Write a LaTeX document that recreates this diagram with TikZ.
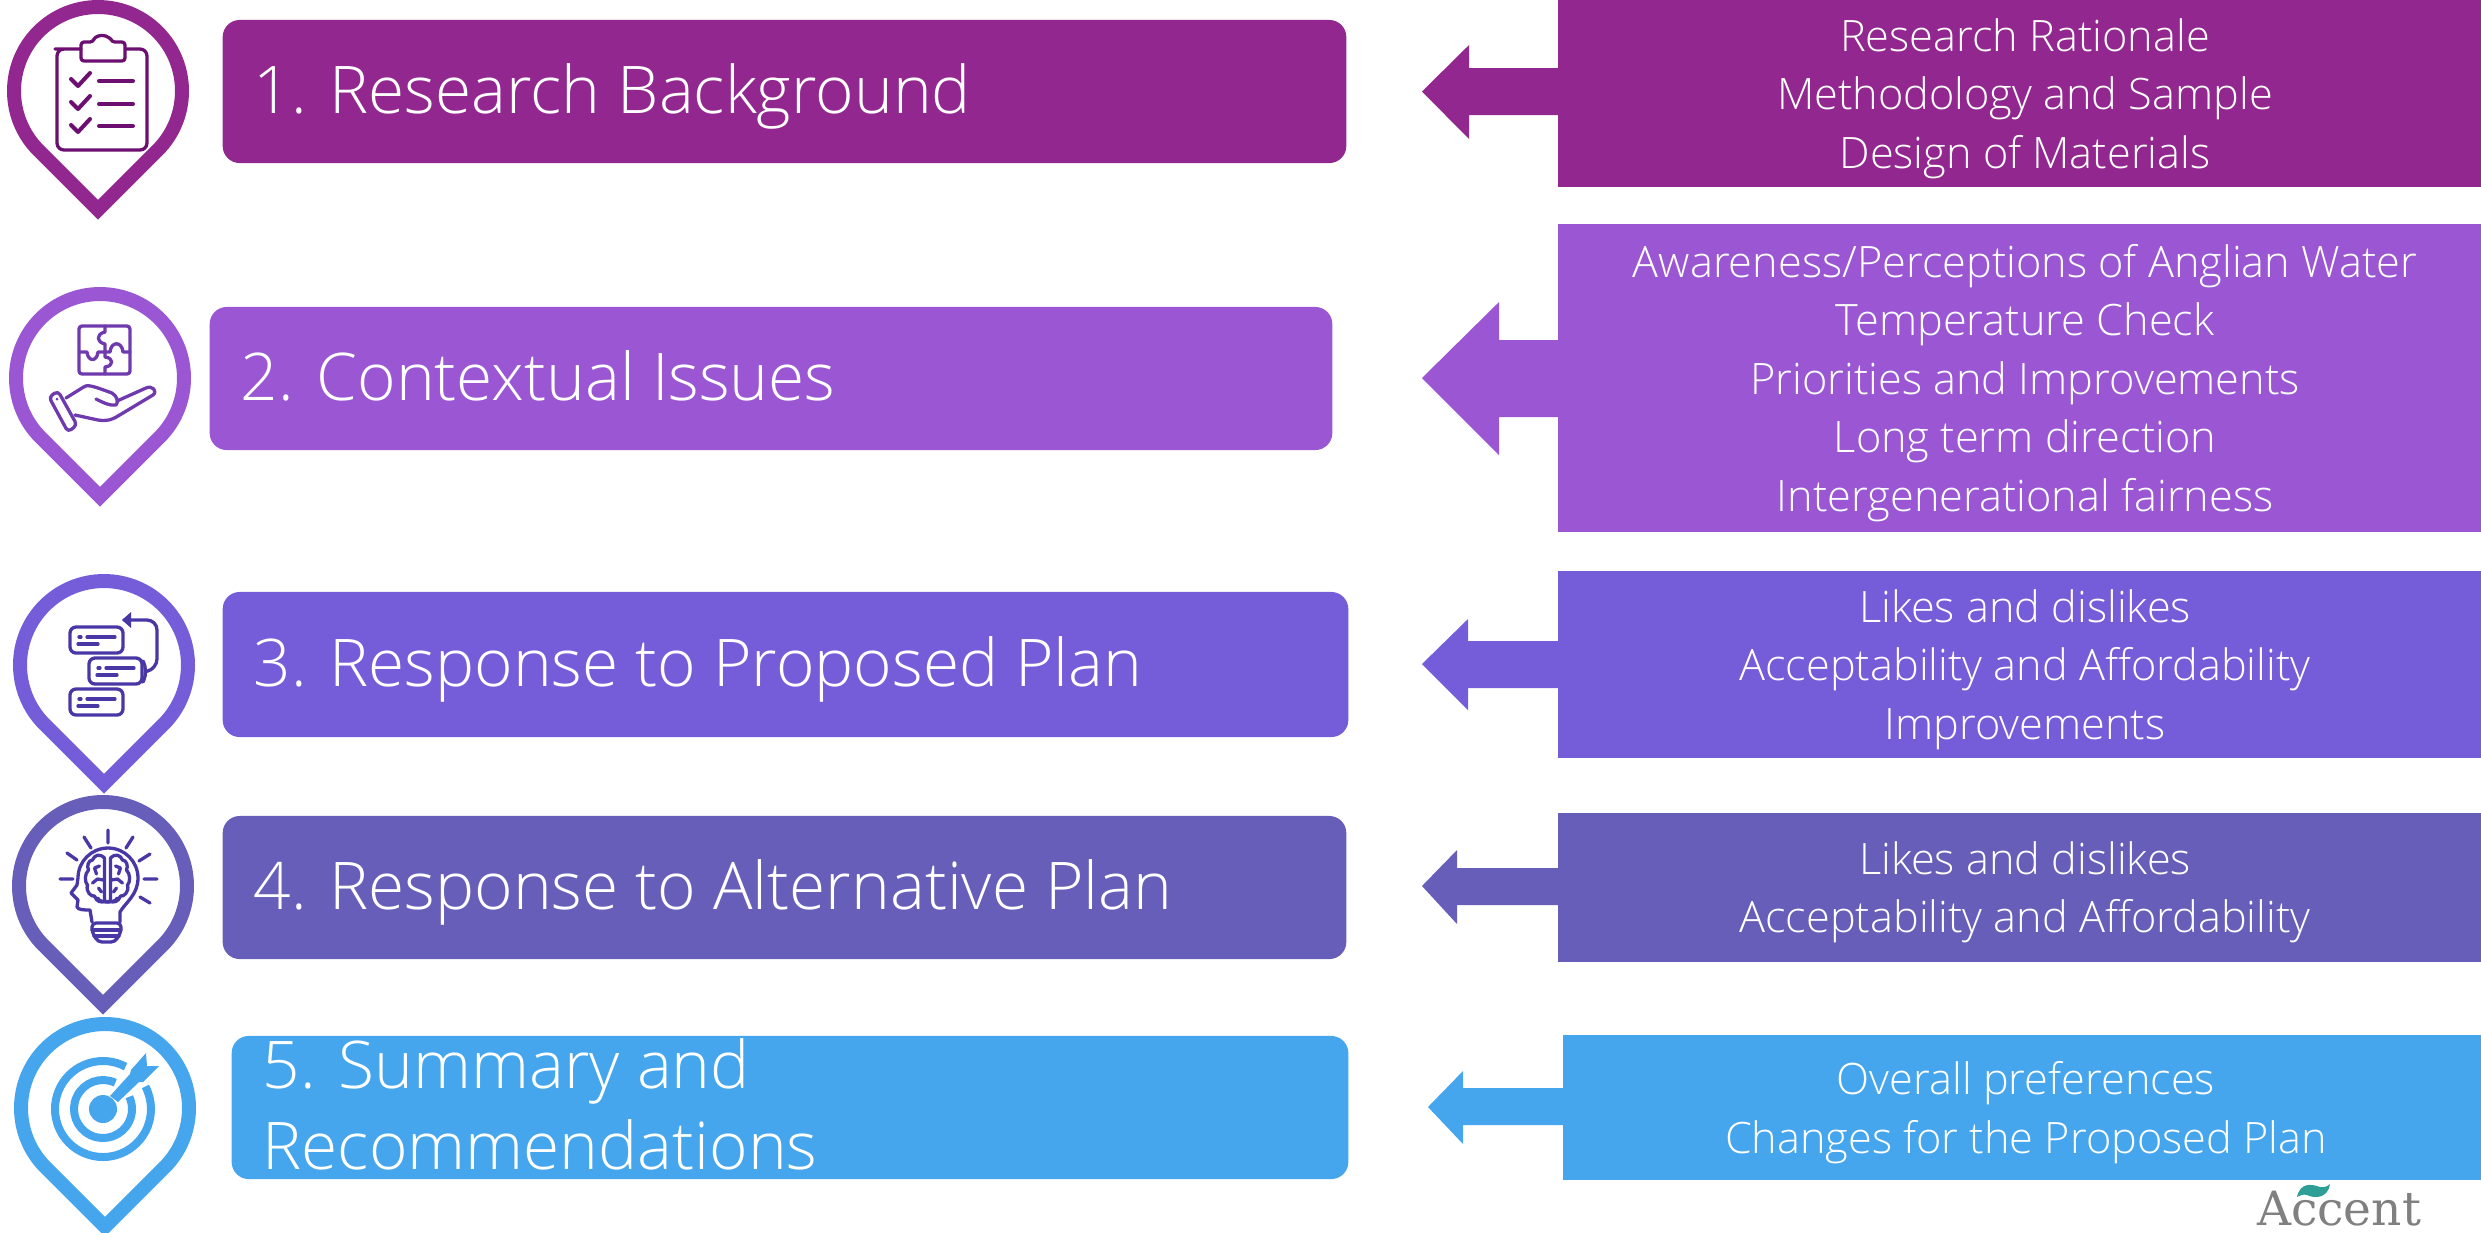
\documentclass[tikz,border=0pt]{standalone}
\usepackage{fontspec}
\setmainfont{Open Sans Light}
\newfontfamily\logofont{DejaVu Serif}
\usetikzlibrary{positioning}
\definecolor{stepA}{HTML}{92278F}
\definecolor{stepB}{HTML}{9B57D3}
\definecolor{stepC}{HTML}{755DD9}
\definecolor{stepD}{HTML}{665EB8}
\definecolor{stepE}{HTML}{45A5ED}
\definecolor{iconA}{HTML}{6C0F70}
\definecolor{iconB}{HTML}{6E3AAE}
\definecolor{iconC}{HTML}{4A37A6}
\definecolor{logogrey}{HTML}{808080}
\definecolor{logoteal}{HTML}{2F9E97}
\newcommand*{\bigfont}{\fontsize{18.7}{23}\selectfont}
\newcommand*{\smallfont}{\fontsize{12.3}{16.6}\selectfont}
\tikzset{base/.style={inner sep=0pt, outer sep=0pt},
  leftbox/.style={base, rounded corners=.17cm},
  rightbox/.style={base, minimum width=9.33cm},
  smalltext/.style={base, text=white, align=center, font=\smallfont, yshift=-.05cm},
  bigtext/.style={base, text=white, align=left, font=\bigfont},
  oneline/.style={text height=16pt, text depth=3.4pt},
  pinline/.style={line width=.14cm, miter limit=10},
  icon/.style={line width=.033cm, line join=round, line cap=round}}
% tear drop round an icon: centre and colour
\newcommand*{\pinshape}[3]{\draw [pinline, #3] (#1,#2+118.8) -- ++(59.4,-59.4) arc [start angle=45, end angle=-225, radius=84] -- cycle;}
% small card of the flow icon: top left corner
\newcommand*{\flowcard}[2]{
  \draw [icon, rounded corners=.06cm] (#1,#2) rectangle ++(53,26);
  \draw [icon] (#1+9,#2+10) -- ++(2,0) (#1+17,#2+10) -- ++(28,0) (#1+8,#2+17) -- ++(20,0);}

\begin{document}
\begin{tikzpicture}[x=.01cm, y=-.01cm]
    \path [use as bounding box] (0,0) rectangle (2481,1232);
    % right boxes
    \node [rightbox, fill=stepA, minimum height=1.87cm] (rbox1) at (2025,93.5) {};
    \node [rightbox, fill=stepB, minimum height=3.08cm] (rbox2) at (2025,378) {};
    \node [rightbox, fill=stepC, minimum height=1.87cm] (rbox3) at (2025,664.5) {};
    \node [rightbox, fill=stepD, minimum height=1.49cm] (rbox4) at (2025,887.5) {};
    \node [rightbox, fill=stepE, minimum height=1.45cm, minimum width=9.26cm] (rbox5) at (2026,1107.5) {};
    \node [smalltext] (list1) at (rbox1) {Research Rationale\\Methodology and Sample\\Design of Materials};
    \node [smalltext] (list2) at (rbox2) {Awareness/Perceptions of Anglian Water\\Temperature Check\\Priorities and Improvements\\Long term direction\\Intergenerational fairness};
    \node [smalltext] (list3) at (rbox3) {Likes and dislikes\\Acceptability and Affordability\\Improvements};
    \node [smalltext] (list4) at (rbox4) {Likes and dislikes\\Acceptability and Affordability};
    \node [smalltext] (list5) at (rbox5) {Overall preferences\\Changes for the Proposed Plan};
    % block arrows
    \fill [stepA] (1422,91.5) -- (1469,45) -- (1469,68) -- (1558,68) -- (1558,115) -- (1469,115) -- (1469,139) -- cycle;
    \fill [stepB] (1422,378) -- (1499,302) -- (1499,340) -- (1558,340) -- (1558,417) -- (1499,417) -- (1499,455) -- cycle;
    \fill [stepC] (1422,664) -- (1468,619) -- (1468,641) -- (1558,641) -- (1558,688) -- (1468,688) -- (1468,710) -- cycle;
    \fill [stepD] (1422,886) -- (1457,850) -- (1457,868) -- (1558,868) -- (1558,905) -- (1457,905) -- (1457,924) -- cycle;
    \fill [stepE] (1428,1107) -- (1463,1071) -- (1463,1088) -- (1564,1088) -- (1564,1125) -- (1463,1125) -- (1463,1144) -- cycle;
    % left boxes
    \node [leftbox, fill=stepA, minimum width=11.23cm, minimum height=1.43cm] (box1) at (784.5,91.5) {};
    \node [leftbox, fill=stepB, minimum width=11.22cm, minimum height=1.43cm] (box2) at (771,378.5) {};
    \node [leftbox, fill=stepC, minimum width=11.25cm, minimum height=1.45cm] (box3) at (785.5,664.5) {};
    \node [leftbox, fill=stepD, minimum width=11.23cm, minimum height=1.43cm] (box4) at (784.5,887.5) {};
    \node [leftbox, fill=stepE, minimum width=11.16cm, minimum height=1.43cm] (box5) at (790,1107.5) {};
    \node [bigtext, oneline, right=.31cm of box1.west] (title1) {1. Research Background};
    \node [bigtext, oneline, right=.31cm of box2.west] (title2) {2. Contextual Issues};
    \node [bigtext, oneline, right=.31cm of box3.west] (title3) {3. Response to Proposed Plan};
    \node [bigtext, oneline, right=.31cm of box4.west] (title4) {4. Response to Alternative Plan};
    \node [bigtext, yshift=.03cm, right=.31cm of box5.west] (title5) {5. Summary and\\Recommendations};
    % pins
    \pinshape{98}{91}{stepA}
    \pinshape{100}{378}{stepB}
    \pinshape{104}{665}{stepC}
    \pinshape{103}{886}{stepD}
    \pinshape{105}{1108}{stepE}
    % clipboard
    \begin{scope}[icon, iconA]
        \draw [rounded corners=.07cm] (81,49) -- (62,49) -- (57,49) -- (57,150) -- (147,150) -- (147,49) -- (126,49);
        \draw [rounded corners=.03cm] (81,61) -- (81,42) -- (93,42) arc [start angle=-160, end angle=-20, radius=10] -- (125,42) -- (125,61) -- cycle;
        \draw [line width=.04cm] (71,79) -- (78,86) -- (90,73) (71,102) -- (78,109) -- (90,96) (71,125) -- (78,132) -- (90,119);
        \draw [line width=.04cm] (99,81) -- (133,81) (99,104) -- (133,104) (99,126) -- (133,126);
    \end{scope}
    % puzzle and hand
    \begin{scope}[icon, iconB]
        \draw [rounded corners=.03cm] (79,326) rectangle (130,374);
        \draw (105,326) -- (105,332) .. controls (96,334) and (96,342) .. (105,344) -- (105,357) .. controls (114,358) and (114,366) .. (105,367) -- (105,374);
        \draw (79,352) -- (87,352) .. controls (88,362) and (97,362) .. (98,352) -- (110,352) .. controls (111,341) and (122,341) .. (123,352) -- (130,352);
        \draw [rounded corners=.04cm] (49,397) -- (58,391) -- (77,425) -- (68,432) -- cycle;
        \fill (57,399) circle (1.5);
        \draw (66,398) -- (82,388) .. controls (87,384) and (90,385) .. (112,393) .. controls (117,396) and (119,402) .. (116,405) .. controls (110,406) and (104,403) .. (96,399);
        \draw (117,401) -- (146,388) .. controls (152,385) and (158,391) .. (153,395) -- (118,416) .. controls (110,421) and (104,421) .. (98,420) -- (75,415);
    \end{scope}
    % flow
    \begin{scope}[iconC]
        \flowcard{70}{627}
        \flowcard{89}{658}
        \flowcard{70}{689}
        \draw [icon, rounded corners=.1cm] (143,661) -- (148,671) -- (143,682);
        \draw [icon, rounded corners=.1cm] (148,671) -- (157,669) -- (157,620) -- (124,620);
        \fill (122,620) -- (131,612) -- (131,628) -- cycle;
    \end{scope}
    % brain bulb
    \begin{scope}[icon, iconC]
        \draw (108,830) -- (108,843) (84,837) -- (91,848) (133,837) -- (126,848) (67,853) -- (77,860) (150,854) -- (139,861) (60,879) -- (73,879) (144,879) -- (157,879) (140,897) -- (150,903);
        \draw (120,922) -- (120,912) .. controls (125,903) and (138,895) .. (138,878) arc [start angle=0, end angle=-180, radius=30] -- (77,885) -- (71,893) -- (78,900) -- (77,907) .. controls (78,910) and (85,910) .. (90,910) -- (92,922);
        \draw [rounded corners=.04cm] (92,923) -- (121,923) -- (121,932) -- (115,942) -- (98,942) -- (92,932) -- cycle;
        \draw (92,930) -- (121,930) (94,936) -- (119,936);
        \foreach \side in {1,-1} {
            \begin{scope}[shift={(107.5,0)}, xscale=\side]
                \draw (3,858) -- (3,901) .. controls (-1,903) and (-8,902) .. (-10,898);
                \draw (3,858) .. controls (8,853) and (13,855) .. (15,860) .. controls (19,860) and (21,866) .. (19,870) .. controls (23,874) and (23,882) .. (20,885) .. controls (22,892) and (16,897) .. (13,896) .. controls (11,902) and (6,903) .. (3,901);
                \draw (8,866) -- (13,868) -- (11,874) (4,880) -- (10,879) -- (15,883) (9,888) -- (6,892);
            \end{scope}
        }
    \end{scope}
    % target
    \begin{scope}[stepE]
        \fill (103,1109) circle (14);
        \draw [line width=.08cm] (103,1109) ++(-65:29) arc [start angle=-65, delta angle=-320, radius=29];
        \draw [line width=.08cm] (103,1109) ++(-62:48) arc [start angle=-62, delta angle=-326, radius=48];
        \fill (110,1096) -- (130,1074) -- (131,1070) -- (146,1053) -- (147,1066) -- (159,1066) -- (143,1082) -- (139,1082) -- (118,1102) -- cycle;
    \end{scope}
    % logo
    \node [base, anchor=base west, text=logogrey, font=\logofont\fontsize{13.4}{14}\selectfont] (logo) at (2257,1225) {Accent};
    \fill [logoteal] (2297,1197) .. controls (2300,1182) and (2312,1184) .. (2320,1187) .. controls (2324,1188) and (2328,1186) .. (2330,1184) .. controls (2328,1198) and (2315,1199) .. (2307,1195) .. controls (2303,1194) and (2300,1195) .. (2297,1197) -- cycle;
\end{tikzpicture}
\end{document}
